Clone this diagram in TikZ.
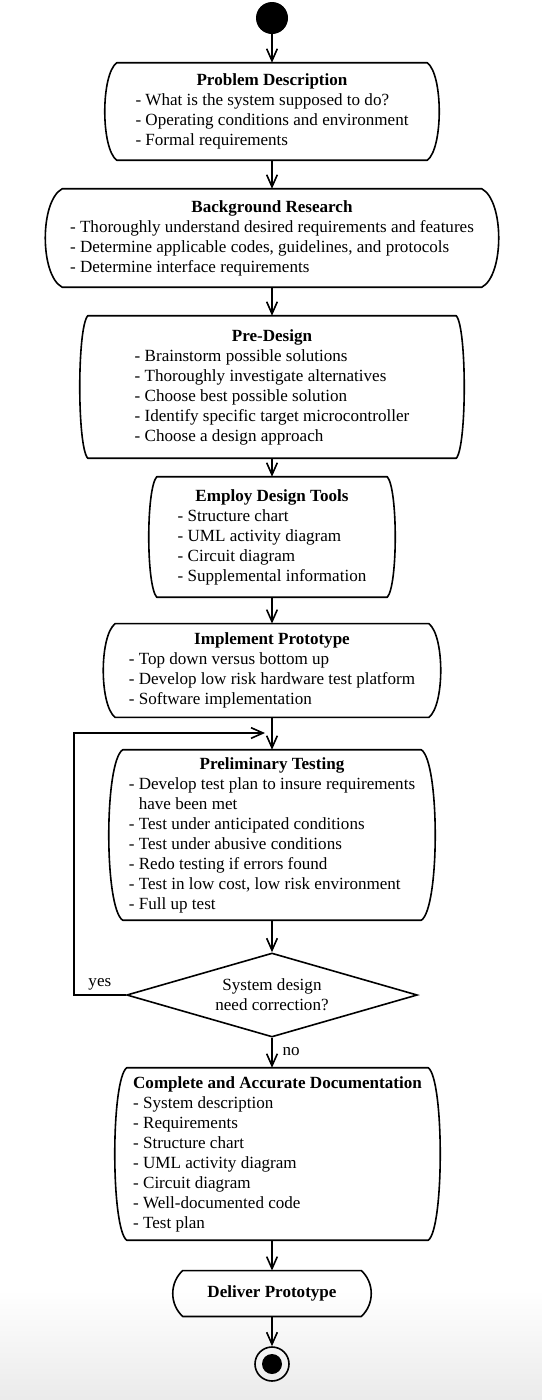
\documentclass[tikz,border=0pt]{standalone}
\usepackage{fontspec}
\setmainfont{Liberation Serif}
\usetikzlibrary{shapes.geometric,arrows.meta}

\newcommand{\acttext}[2]{\begin{tabular}{@{}l@{}}\multicolumn{1}{@{}c@{}}{\textbf{#1}}\\#2\end{tabular}}

\tikzset{
    act/.style={rectangle, inner sep=0pt},
    actframe/.style={line width=1.2pt, line join=round},
    decision/.style={draw, line width=1.2pt, diamond, aspect=3.46, inner sep=0pt, align=center},
    flow/.style={line width=1.2pt, -{Straight Barb[length=9pt,width=8pt]}},
}

\begin{document}
\begin{tikzpicture}[x=0.75pt, y=-0.75pt, font=\fontsize{12.8}{15}\selectfont]
    \useasboundingbox (0,0) rectangle (542,1400);
    \shade[top color=white, bottom color=black!8] (0,1290) rectangle (542,1400);

    \node[circle, fill=black, minimum size=24pt, inner sep=0pt] (start) at (272,18) {};

    \node[act, minimum width=232.5pt, minimum height=72.75pt] (pd) at (272,111.5)
        {\acttext{Problem Description}{- What is the system supposed to do?\\- Operating conditions and environment\\- Formal requirements}};
    \node[act, minimum width=314.25pt, minimum height=73.5pt] (br) at (272,238)
        {\acttext{Background Research}{- Thoroughly understand desired requirements and features\\- Determine applicable codes, guidelines, and protocols\\- Determine interface requirements}};
    \node[act, minimum width=276pt, minimum height=106.5pt] (pre) at (272,387)
        {\acttext{Pre-Design}{- Brainstorm possible solutions\\- Thoroughly investigate alternatives\\- Choose best possible solution\\- Identify specific target microcontroller\\- Choose a design approach}};
    \node[act, minimum width=172.5pt, minimum height=90pt] (tools) at (272,537)
        {\acttext{Employ Design Tools}{- Structure chart\\- UML activity diagram\\- Circuit diagram\\- Supplemental information}};
    \node[act, minimum width=234.75pt, minimum height=70pt] (impl) at (272,670.5)
        {\acttext{Implement Prototype}{- Top down versus bottom up\\- Develop low risk hardware test platform\\- Software implementation}};
    \node[act, minimum width=223.5pt, minimum height=127.5pt] (test) at (272,835)
        {\acttext{Preliminary Testing}{- Develop test plan to insure requirements\\\phantom{- }have been met\\- Test under anticipated conditions\\- Test under abusive conditions\\- Redo testing if errors found\\- Test in low cost, low risk environment\\- Full up test}};
    \node[decision, minimum width=218pt, minimum height=63pt] (dec) at (272,995)
        {System design\\need correction?};
    \node[act, minimum width=225.75pt, minimum height=129pt] (doc) at (277.5,1154)
        {\acttext{Complete and Accurate Documentation}{- System description\\- Requirements\\- Structure chart\\- UML activity diagram\\- Circuit diagram\\- Well-documented code\\- Test plan}};
    \node[act, minimum width=133.5pt, minimum height=34pt] (deliver) at (272,1293.5)
        {\textbf{Deliver Prototype}};
    \node[circle, draw, line width=1.2pt, minimum size=25.5pt, inner sep=0pt] (end) at (272,1364) {};
    \fill (end) circle (7.5pt);

    \foreach \n/\b in {pd/12, br/17, pre/8, tools/8, impl/12, test/14, doc/12, deliver/10}
        \draw[actframe] (\n.north west) -- (\n.north east)
            .. controls +(1.33*\b,12) and +(1.33*\b,-12) .. (\n.south east) -- (\n.south west)
            .. controls +(-1.33*\b,-12) and +(-1.33*\b,12) .. (\n.north west) -- cycle;

    \coordinate (back) at (265,733);

    \draw[flow] (start) -- (pd);
    \draw[flow] (pd) -- (br);
    \draw[flow] (br) -- (pre);
    \draw[flow] (pre) -- (tools);
    \draw[flow] (tools) -- (impl);
    \draw[flow] (impl) -- (test);
    \draw[flow] (test) -- (dec);
    \draw[flow] (dec) -- node[right, pos=0.45, xshift=4pt] {no} (dec.south |- doc.north);
    \draw[flow] (doc.south -| deliver) -- (deliver);
    \draw[flow] (deliver) -- (end);
    \draw[flow] (dec.west) -- node[above, pos=0.5] {yes} ++(-52,0) |- (back);
\end{tikzpicture}
\end{document}
